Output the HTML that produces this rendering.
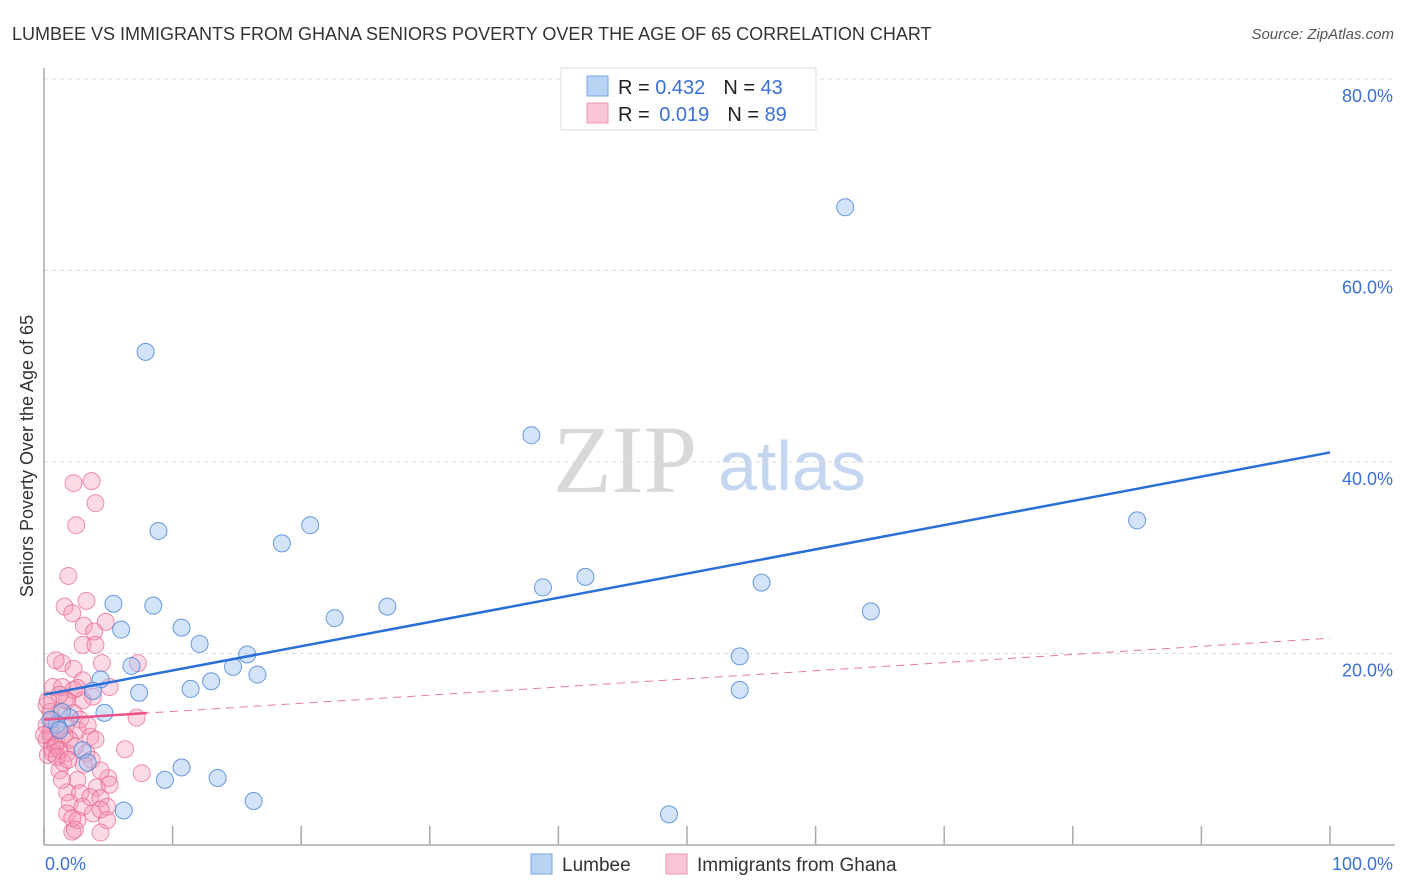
<!DOCTYPE html>
<html><head><meta charset="utf-8"><style>
html,body{margin:0;padding:0;background:#fff;width:1406px;height:892px;overflow:hidden;font-family:"Liberation Sans",sans-serif}
</style></head><body>
<svg id="chart" width="1406" height="892" xmlns="http://www.w3.org/2000/svg">
<text x="12" y="40" font-size="18" fill="#333">LUMBEE VS IMMIGRANTS FROM GHANA SENIORS POVERTY OVER THE AGE OF 65 CORRELATION CHART</text>
<text x="1394" y="39" font-size="15" fill="#555" font-style="italic" text-anchor="end">Source: ZipAtlas.com</text>
<g>
<text x="553" y="492" font-size="96" font-family="Liberation Serif,serif" fill="#d8d8d8">ZIP</text>
<text x="718" y="490" font-size="70" fill="#c5d7f0">atlas</text>
</g>
<text transform="translate(33,456) rotate(-90)" font-size="18" fill="#333" text-anchor="middle">Seniors Poverty Over the Age of 65</text>
<g id="grid"></g><g id="axes"></g><g id="marks"></g><g id="lines"></g>
<g>
<rect x="561" y="68" width="255" height="62" fill="#fff" stroke="#ddd"/>
<rect x="587" y="76" width="21" height="20" fill="#b9d3f5" stroke="#7aa6e4"/>
<rect x="587" y="103" width="21" height="20" fill="#f9c6d5" stroke="#ef96b2"/>
<text x="618" y="94" font-size="20" fill="#222">R = <tspan fill="#3b70d4">0.432</tspan><tspan dx="18">N = </tspan><tspan fill="#3b70d4">43</tspan></text>
<text x="618" y="121" font-size="20" fill="#222">R = <tspan fill="#3b70d4" dx="4">0.019</tspan><tspan dx="18">N = </tspan><tspan fill="#3b70d4">89</tspan></text>
</g>
<g>
<rect x="531" y="854" width="21" height="20" fill="#b9d3f5" stroke="#7aa6e4"/>
<text x="562" y="871" font-size="19" fill="#333">Lumbee</text>
<rect x="666" y="854" width="21" height="20" fill="#f9c6d5" stroke="#ef96b2"/>
<text x="697" y="871" font-size="19" fill="#333">Immigrants from Ghana</text>
</g>
</svg>
<script>
const yTicks=[20,40,60,80];
const yTickLabels=["20.0%","40.0%","60.0%","80.0%"];
const xTickVals=[0,10,20,30,40,50,60,70,80,90,100];
const xEndLabels=["0.0%","100.0%"];
const lumbeeX=[7.9,62.3,37.9,85.0,8.9,20.7,18.5,38.8,42.1,55.8,64.3,5.4,8.5,6.0,10.7,12.1,22.6,26.7,15.8,14.7,16.6,13.0,11.4,7.4,6.8,4.4,3.8,4.7,2.0,1.4,1.0,3.0,3.4,10.7,9.4,13.5,16.3,6.2,48.6,54.1,54.1,0.5,1.2];
const lumbeeY=[51.5,66.6,42.8,33.9,32.8,33.4,31.5,26.9,28.0,27.4,24.4,25.2,25.0,22.5,22.7,21.0,23.7,24.9,19.9,18.6,17.8,17.1,16.3,15.9,18.7,17.3,16.1,13.8,13.3,13.9,12.6,9.9,8.6,8.1,6.8,7.0,4.6,3.6,3.2,19.7,16.2,13.1,12.0];
const ghanaX=[2.3,3.7,4.0,2.5,1.9,1.6,3.3,2.2,3.1,4.8,3.9,3.0,4.0,4.5,1.4,2.3,7.3,5.1,3.0,0.7,1.4,2.3,3.8,1.6,3.0,7.2,2.3,1.2,2.6,3.6,0.5,1.0,6.3,1.8,0.7,3.3,1.5,7.6,1.2,2.6,5.0,4.1,1.8,2.8,3.6,5.1,4.4,2.0,4.9,3.0,1.8,3.8,2.6,4.9,2.2,4.4,0.2,0.5,0.2,0.6,0.3,0.9,1.1,0.0,0.7,1.2,1.6,1.0,0.2,0.5,2.0,2.4,1.7,2.8,0.9,1.8,3.7,4.4,1.4,3.1,2.2,4.4,4.0,3.4,1.2,2.6,0.3,2.4,1.9];
const ghanaY=[37.8,38.0,35.7,33.4,28.1,24.9,25.5,24.2,22.9,23.3,22.3,20.9,20.9,19.0,19.0,18.4,19.0,16.5,17.2,16.5,16.5,16.2,15.5,15.1,15.1,13.3,13.8,13.8,12.0,11.3,11.3,10.7,10.0,9.6,9.6,9.6,8.6,7.5,7.8,6.8,7.0,6.0,5.5,5.4,5.0,6.3,4.9,4.4,4.0,4.0,3.3,3.3,2.6,2.6,1.4,1.3,12.5,11.8,11.0,10.1,9.4,10.4,12.2,11.5,13.1,9.9,11.5,9.2,14.6,13.9,11.0,10.3,12.5,13.1,19.3,15.1,8.9,7.8,6.8,8.4,2.8,3.7,11.0,12.5,15.7,16.4,15.1,1.6,8.9];
const lumbeeTrend=[15.7,41.0];
const ghanaTrend=[13.1,21.6];
const ghanaSolidEnd=8;
const NS="http://www.w3.org/2000/svg";
const X0=44,X1=1330,Y0=845,PXPER=9.575;
function sx(v){return X0+(X1-X0)*v/100;}
function sy(v){return Y0-v*PXPER;}
function mk(tag,attrs,parent){const e=document.createElementNS(NS,tag);for(const k in attrs)e.setAttribute(k,attrs[k]);parent.appendChild(e);return e;}
const grid=document.getElementById('grid'),axes=document.getElementById('axes'),marks=document.getElementById('marks'),lines=document.getElementById('lines');
yTicks.forEach((t,i)=>{
 const g=mk('line',{x1:X0,x2:1395,y1:sy(t),y2:sy(t),stroke:'#ddd','stroke-dasharray':'4,4'},grid);
 
 
 const l=mk('text',{x:1393,y:sy(t)+23,'font-size':18,fill:'#3b70d4','text-anchor':'end'},axes);
 l.textContent=yTickLabels[i];
 
 
});
const ya=mk('line',{x1:X0,x2:X0,y1:68,y2:Y0,stroke:'#aaa','stroke-width':1.5},axes);


const xa=mk('line',{x1:X0,x2:1395,y1:Y0,y2:Y0,stroke:'#aaa','stroke-width':1.5},axes);


xTickVals.forEach(t=>{
 const tk=mk('line',{x1:sx(t),x2:sx(t),y1:826,y2:Y0,stroke:'#aaa','stroke-width':1.5},axes);
 
 
});
const xl0=mk('text',{x:45,y:870,'font-size':18,fill:'#3b70d4'},axes);xl0.textContent=xEndLabels[0];


const xl1=mk('text',{x:1393,y:870,'font-size':18,fill:'#3b70d4','text-anchor':'end'},axes);xl1.textContent=xEndLabels[1];


ghanaX.forEach((v,i)=>{
 const c=mk('circle',{cx:sx(v),cy:sy(ghanaY[i]),r:8.5,fill:'rgba(244,150,180,0.35)',stroke:'rgba(232,100,140,0.7)','stroke-width':1},marks);
 
 
});
lumbeeX.forEach((v,i)=>{
 const c=mk('circle',{cx:sx(v),cy:sy(lumbeeY[i]),r:8.5,fill:'rgba(160,196,240,0.45)',stroke:'rgba(70,130,215,0.8)','stroke-width':1},marks);
 
 
});
function trendY(tr,x){return tr[0]+(tr[1]-tr[0])*x/100;}
const gd=mk('line',{x1:sx(0),y1:sy(trendY(ghanaTrend,0)),x2:sx(100),y2:sy(trendY(ghanaTrend,100)),stroke:'#e87a9c','stroke-width':1,'stroke-dasharray':'8,6'},lines);


const gs=mk('line',{x1:sx(0),y1:sy(trendY(ghanaTrend,0)),x2:sx(ghanaSolidEnd),y2:sy(trendY(ghanaTrend,ghanaSolidEnd)),stroke:'#e8538a','stroke-width':2.5},lines);


const bl=mk('line',{x1:sx(0),y1:sy(trendY(lumbeeTrend,0)),x2:sx(100),y2:sy(trendY(lumbeeTrend,100)),stroke:'#2a6fd6','stroke-width':2.5},lines);


</script>
</body></html>
